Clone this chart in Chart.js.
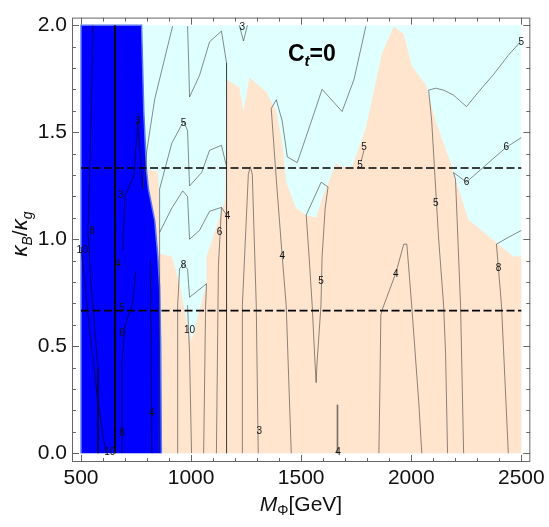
<!DOCTYPE html>
<html>
<head>
<meta charset="utf-8">
<script src="https://cdn.jsdelivr.net/npm/chart.js@4.4.0/dist/chart.umd.min.js"></script>
<style>
  html, body { margin: 0; padding: 0; background: #fff; }
  #wrap { width: 549px; height: 527px; }
</style>
</head>
<body>
<div id="wrap"><canvas id="chart" width="549" height="527"></canvas></div>
<script>
// axis ticks
const xTicks = [500, 1000, 1500, 2000, 2500];
const yTicks = [0, 0.5, 1.0, 1.5, 2.0];

// filled regions, [M_Phi (GeV), kB/kg]
const allowedBand = [[500, 0], [500, 2], [2500, 2], [2500, 0]];
const peachBand = [
  [700, 0], [700, 1.326], [799, 1.326], [848, 1.317], [853, 1.235], [857, 0.932],
  [912, 0.919], [948, 0.796], [980, 0.615], [1002, 0.525], [1025, 0.615], [1070, 0.796],
  [1070, 0.919], [1097, 1.0], [1138, 1.131], [1156, 1.19], [1161, 1.747], [1219, 1.71],
  [1238, 1.597], [1265, 1.756], [1342, 1.688], [1387, 1.597], [1414, 1.448], [1432, 1.267],
  [1477, 1.145], [1523, 1.113], [1568, 1.1], [1595, 1.19], [1658, 1.357], [1681, 1.339],
  [1731, 1.339], [1794, 1.52], [1867, 1.869], [1921, 1.995], [1966, 1.959], [2002, 1.81],
  [2066, 1.724], [2111, 1.552], [2179, 1.357], [2201, 1.281], [2260, 1.09], [2305, 1.054],
  [2396, 0.977], [2464, 0.919], [2500, 0.919], [2500, 0]
];
const excludedBand = [
  [500, 0], [500, 2], [775, 2], [785, 1.6], [797, 1.326], [806, 1.235], [835, 1.086],
  [849, 0.919], [857, 0.78], [862, 0.5], [865, 0]
];

// contour lines outside the excluded band
const lineA = [[916, 1.996], [835, 1.656], [799, 1.416], [781, 1.235]];
const lineB = [[984, 1.996], [989, 1.824], [993, 1.665], [1038, 1.765], [1084, 1.923], [1138, 1.973], [1161, 1.824], [1161, 0]];
const lineC = [[853, 0], [857, 0.692], [857, 1.235], [912, 1.448], [966, 1.552], [984, 1.507], [993, 1.249], [1048, 1.312], [1084, 1.416], [1138, 1.439], [1161, 1.339]];
const lineD = [[857, 1.032], [912, 1.145], [962, 1.226], [984, 1.199], [993, 1.0], [1038, 1.041], [1084, 1.131], [1138, 1.149], [1161, 1.113]];
const lineP = [[1138, 1.149], [1124, 0.873], [1115, 0]];
const lineE = [[939, 0], [939, 0.692], [948, 0.864], [966, 0.882], [984, 0.86], [993, 0.729], [1070, 0.792], [1066, 0.692], [1057, 0]];
const lineF = [[984, 0.692], [993, 0.466], [1002, 0]];
const lineG = [[1794, 1.996], [1740, 1.747], [1686, 1.597], [1595, 1.701], [1536, 1.52], [1482, 1.358], [1437, 1.385], [1414, 1.552], [1387, 1.652], [1364, 1.611], [1387, 1.281], [1414, 0.919], [1432, 0.692], [1455, 0]];
const lineH = [[1523, 1.113], [1536, 0.919], [1550, 0.692], [1563, 0.421], [1568, 0.33], [1572, 0.421], [1590, 0.692], [1595, 0.919], [1609, 1.145], [1622, 1.244], [1591, 1.267], [1523, 1.113]];
const lineI = [[1662, 0], [1662, 0.226], [1666, 0.226], [1666, 0]];
const lineJ = [[1853, 0], [1858, 0.33], [1862, 0.647], [1871, 0.679], [1930, 0.842], [1966, 0.977], [1980, 0.977], [2002, 0.692], [2034, 0.24], [2048, 0]];
const lineK = [[2165, 0], [2156, 0.466], [2147, 0.692], [2124, 1.009], [2111, 1.235], [2093, 1.552], [2079, 1.697], [2111, 1.706], [2147, 1.697], [2192, 1.674], [2251, 1.62], [2305, 1.688], [2373, 1.769], [2441, 1.86], [2496, 1.923]];
const lineL = [[2238, 0], [2224, 0.692], [2201, 1.281], [2192, 1.312], [2251, 1.267], [2351, 1.358], [2432, 1.43], [2500, 1.475]];
const lineM = [[2441, 0], [2410, 0.692], [2387, 0.977], [2441, 1.009], [2500, 1.041]];
const lineO = [[1233, 0], [1233, 0.692], [1260, 1.303], [1269, 1.339], [1278, 1.303], [1296, 0.692], [1305, 0]];
const lineTop3 = [[1219, 2.0], [1238, 1.927], [1256, 2.0]];
const lineShort5 = [[1772, 1.362], [1785, 1.416]];

// contour lines inside the excluded band
const blueSpine = [[654, 0], [654, 2]];
const blue8 = [[554, 2], [541, 1.371], [532, 1.036], [545, 0.8], [577, 0.4], [577, 0]];
const blue10 = [[500, 0.964], [541, 0.557], [577, 0.24], [613, 0]];
const blue3 = [[781, 1.235], [758, 1.552], [740, 1.3], [700, 1.2], [690, 0.95]];
const blue4 = [[686, 0], [686, 0.421], [700, 0.6], [735, 0.7], [748, 0.85]];
const blue4b = [[822, 0], [815, 0.9]];

const contourLabels = [
  [758, 1.552, '3'], [681, 1.208, '3'], [550, 1.036, '8'], [505, 0.95, '10'], [667, 0.882, '4'],
  [686, 0.679, '5'], [686, 0.561, '6'], [821, 0.186, '4'], [686, 0.095, '8'], [631, 0.005, '10'],
  [1233, 1.991, '3'], [966, 1.543, '5'], [1165, 1.109, '4'], [1129, 1.032, '6'], [966, 0.878, '8'],
  [993, 0.575, '10'], [1310, 0.104, '3'], [1414, 0.919, '4'], [1590, 0.805, '5'], [1667, 0.005, '4'],
  [1930, 0.837, '4'], [1785, 1.43, '5'], [1767, 1.344, '5'], [2111, 1.167, '5'], [2251, 1.267, '6'],
  [2432, 1.43, '6'], [2500, 1.919, '5'], [2396, 0.864, '8']
];

const dashLevels = [4 / 3, 2 / 3];

const pts = arr => arr.map(([x, y]) => ({ x, y }));

function region(arr, color, order, border) {
  return {
    data: pts(arr), showLine: true, fill: 'shape', tension: 0,
    backgroundColor: color, borderColor: border || 'rgba(0,0,0,0)',
    borderWidth: border ? 1.5 : 0, pointRadius: 0, order
  };
}

function contour(arr, color, width) {
  return {
    data: pts(arr), showLine: true, fill: false, tension: 0,
    borderColor: color, borderWidth: width, pointRadius: 0, order: 10
  };
}

const grayLine = 'rgba(50,50,50,0.7)';
const darkLine = 'rgba(0,0,40,0.85)';

const datasets = [
  region(allowedBand, '#E0FFFF', 100),
  region(peachBand, '#FFE4CE', 90),
  region(excludedBand, '#0000FF', 80, '#5a78f2'),
  ...[lineA, lineB, lineC, lineD, lineP, lineE, lineF, lineG, lineH, lineJ, lineK, lineL, lineM, lineO, lineTop3, lineShort5]
    .map(l => contour(l, grayLine, 0.8)),
  contour(lineI, 'rgba(50,50,50,0.55)', 0.6),
  ...[blue8, blue10, blue3, blue4, blue4b].map(l => contour(l, darkLine, 0.8)),
  contour(blueSpine, '#000', 1.8),
  ...dashLevels.map(v => ({
    data: pts([[500, v], [2500, v]]), showLine: true, fill: false,
    borderColor: '#000', borderWidth: 1.6, borderDash: [8, 3.5], pointRadius: 0, order: 1
  }))
];

// draws a run of text pieces (font, text, baseline shift) starting at x
function drawRuns(ctx, runs, x, y, align) {
  let total = 0;
  runs.forEach(r => { ctx.font = r.font; total += ctx.measureText(r.text).width; });
  let cx = align === 'center' ? x - total / 2 : x;
  runs.forEach(r => {
    ctx.font = r.font;
    ctx.fillText(r.text, cx, y + (r.dy || 0));
    cx += ctx.measureText(r.text).width;
  });
}

const SANS = '"Liberation Sans", Arial, sans-serif';

const contourText = {
  id: 'contourText',
  afterDatasetsDraw(chart) {
    const { ctx, scales: { x, y } } = chart;
    ctx.save();
    ctx.fillStyle = '#111';
    ctx.font = '10px ' + SANS;
    ctx.textAlign = 'center';
    ctx.textBaseline = 'middle';
    contourLabels.forEach(([vx, vy, t]) => {
      ctx.fillText(t, x.getPixelForValue(vx), y.getPixelForValue(vy));
    });
    ctx.restore();
  }
};

const frameTicks = {
  id: 'frameTicks',
  afterDraw(chart) {
    const { ctx, chartArea: a, scales: { x, y } } = chart;
    ctx.save();
    ctx.strokeStyle = '#666';
    ctx.lineWidth = 1;
    ctx.strokeRect(a.left + 0.5, a.top + 0.5, a.right - a.left - 1, a.bottom - a.top - 1);
    ctx.beginPath();
    for (let v = 500; v <= 2500; v += 100) {
      const len = v % 500 === 0 ? 7 : 4;
      const p = Math.round(x.getPixelForValue(v)) + 0.5;
      ctx.moveTo(p, a.bottom); ctx.lineTo(p, a.bottom - len);
      ctx.moveTo(p, a.top); ctx.lineTo(p, a.top + len);
    }
    for (let i = 0; i <= 20; i++) {
      const len = i % 5 === 0 ? 7 : 4;
      const p = Math.round(y.getPixelForValue(i / 10)) + 0.5;
      ctx.moveTo(a.left, p); ctx.lineTo(a.left + len, p);
      ctx.moveTo(a.right, p); ctx.lineTo(a.right - len, p);
    }
    ctx.stroke();

    ctx.fillStyle = '#111';
    ctx.textBaseline = 'alphabetic';
    ctx.textAlign = 'left';
    // x title
    drawRuns(ctx, [
      { text: 'M', font: 'italic 21px ' + SANS },
      { text: 'Φ', font: '14px ' + SANS, dy: 4 },
      { text: '[GeV]', font: '21px ' + SANS }
    ], 301, 511, 'center');
    // y title
    ctx.save();
    ctx.translate(27, 234);
    ctx.rotate(-Math.PI / 2);
    drawRuns(ctx, [
      { text: 'κ', font: 'italic 22px ' + SANS },
      { text: 'B', font: 'italic 14px ' + SANS, dy: 5 },
      { text: '/', font: '21px ' + SANS },
      { text: 'κ', font: 'italic 22px ' + SANS },
      { text: 'g', font: 'italic 14px ' + SANS, dy: 5 }
    ], 0, 0, 'center');
    ctx.restore();
    // panel tag
    ctx.fillStyle = '#000';
    drawRuns(ctx, [
      { text: 'C', font: 'bold 23px ' + SANS },
      { text: 't', font: 'italic bold 15px ' + SANS, dy: 5 },
      { text: '=0', font: 'bold 23px ' + SANS }
    ], 288, 61, 'left');
    ctx.restore();
  }
};

new Chart(document.getElementById('chart'), {
  type: 'scatter',
  data: { datasets },
  options: {
    responsive: false,
    devicePixelRatio: 1,
    animation: false,
    layout: { padding: { top: 3, right: 17, left: 0, bottom: 0 } },
    plugins: { legend: { display: false }, tooltip: { enabled: false } },
    scales: {
      x: {
        type: 'linear', min: 459, max: 2541,
        afterBuildTicks: s => { s.ticks = xTicks.map(v => ({ value: v })); },
        afterFit: s => { s.height = 65; },
        grid: { display: false, drawTicks: false },
        border: { display: false },
        ticks: { color: '#111', font: { size: 21, family: SANS }, padding: 4, maxRotation: 0, callback: v => String(v) }
      },
      y: {
        type: 'linear', min: -0.041, max: 2.036,
        afterBuildTicks: s => { s.ticks = yTicks.map(v => ({ value: v })); },
        afterFit: s => { s.width = 72; },
        grid: { display: false, drawTicks: false },
        border: { display: false },
        ticks: { color: '#111', font: { size: 21, family: SANS }, padding: 5, callback: v => v.toFixed(1) }
      }
    }
  },
  plugins: [contourText, frameTicks]
});
</script>
</body>
</html>
